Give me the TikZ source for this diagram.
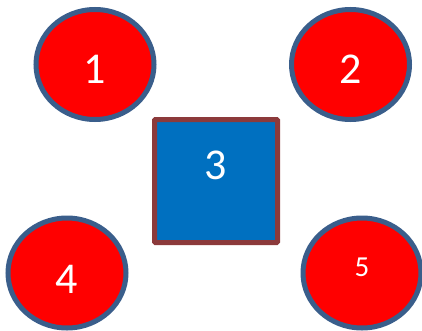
\documentclass[tikz,border=0pt]{standalone}
\usepackage{fontspec}
\setmainfont{Carlito}
\usepackage{tikz}
\usetikzlibrary{shapes.geometric}
\definecolor{ballred}{HTML}{FF0000}
\definecolor{ballrim}{HTML}{3A5E8B}
\definecolor{boxblue}{HTML}{0070C0}
\definecolor{boxrim}{HTML}{8C3A3B}
\tikzset{
    ball/.style={ellipse, draw=ballrim, fill=ballred, line width=5pt,
        minimum width=118pt, minimum height=110pt, inner sep=0pt},
    tile/.style={rectangle, draw=boxrim, fill=boxblue, line width=5pt,
        rounded corners=1pt, minimum size=123pt, inner sep=0pt},
    numtext/.style={white, font=\fontsize{44}{50}\selectfont, inner sep=0pt},
    smalltext/.style={numtext, font=\fontsize{29}{34}\selectfont},
}
\begin{document}
\begin{tikzpicture}[x=1pt, y=1pt]
    \useasboundingbox (0,0) rectangle (422,330);
    \foreach \n/\x/\y/\dy in {1/95/265.5/-5, 2/350.5/265.5/-5, 4/67/57/-6}
        \node[ball, label={[numtext, yshift=\dy pt]center:\n}] (b\n) at (\x,\y) {};
    \node[ball, label={[smalltext, yshift=6pt]center:5}] (b5) at (362,57) {};
    \node[tile, label={[numtext, yshift=16pt]center:3}] (b3) at (216,149) {};
\end{tikzpicture}
\end{document}
